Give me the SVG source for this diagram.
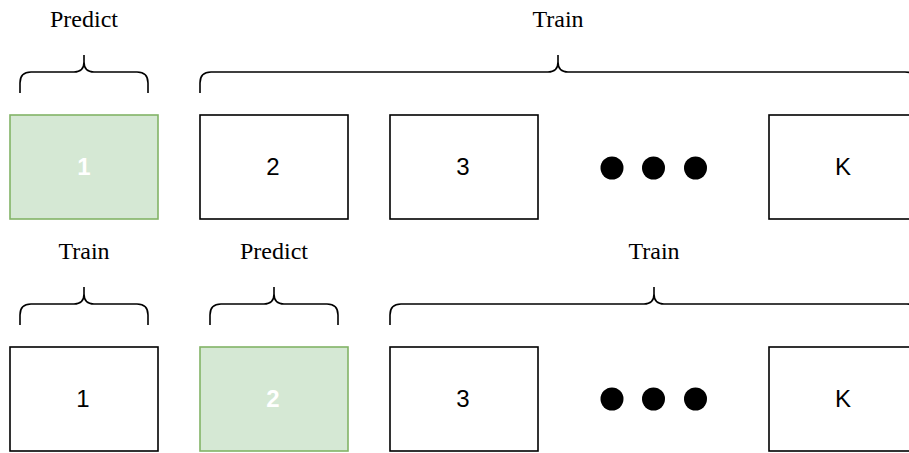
<svg xmlns="http://www.w3.org/2000/svg" width="909" height="453" viewBox="0 0 909 453">
  <style>
    .fold { fill: #ffffff; stroke: #000000; stroke-width: 1.6; }
    .fold.hold { fill: #d5e8d4; stroke: #82b366; }
    .num { font-family: "Liberation Sans", Arial, sans-serif; font-size: 24px; fill: #000000; text-anchor: middle; }
    .num.hold { fill: #ffffff; font-weight: bold; }
    .brace { fill: none; stroke: #000000; stroke-width: 1.6; }
    .tag { font-family: "Liberation Serif", "Times New Roman", serif; font-size: 24px; fill: #000000; text-anchor: middle; }
    .dot { fill: #000000; }
  </style>
  <rect width="909" height="453" fill="#ffffff"/>

  <!-- Row 1: fold 1 held out -->
  <g id="row1">
    <g id="r1-brace-predict">
      <path class="brace" d="M20,93 L20,83 Q20,72 31,72 L74,72 Q84,72 84,62 L84,55 M84,62 Q84,72 94,72 L137,72 Q148,72 148,83 L148,93"/>
      <text class="tag" x="84" y="27">Predict</text>
    </g>
    <g id="r1-brace-train">
      <path class="brace" d="M200,93 L200,83 Q200,72 211,72 L548,72 Q558,72 558,62 L558,55 M558,62 Q558,72 568,72 L905,72 Q916,72 916,83 L916,93"/>
      <text class="tag" x="558" y="27">Train</text>
    </g>
    <g id="r1-fold1">
      <rect class="fold hold" x="10" y="115" width="148" height="104"/>
      <text class="num hold" x="84" y="175">1</text>
    </g>
    <g id="r1-fold2">
      <rect class="fold" x="200" y="115" width="148" height="104"/>
      <text class="num" x="273" y="175">2</text>
    </g>
    <g id="r1-fold3">
      <rect class="fold" x="390" y="115" width="148" height="104"/>
      <text class="num" x="463" y="175">3</text>
    </g>
    <g id="r1-ellipsis">
      <circle class="dot" cx="612" cy="168" r="11.5"/>
      <circle class="dot" cx="653.5" cy="168" r="11.5"/>
      <circle class="dot" cx="695.5" cy="168" r="11.5"/>
    </g>
    <g id="r1-foldK">
      <rect class="fold" x="769" y="115" width="148" height="104"/>
      <text class="num" x="843" y="175">K</text>
    </g>
  </g>

  <!-- Row 2: fold 2 held out -->
  <g id="row2">
    <g id="r2-brace-train-left">
      <path class="brace" d="M20,325 L20,315 Q20,304 31,304 L74,304 Q84,304 84,294 L84,287 M84,294 Q84,304 94,304 L137,304 Q148,304 148,315 L148,325"/>
      <text class="tag" x="84" y="259">Train</text>
    </g>
    <g id="r2-brace-predict">
      <path class="brace" d="M210,325 L210,315 Q210,304 221,304 L264,304 Q274,304 274,294 L274,287 M274,294 Q274,304 284,304 L327,304 Q338,304 338,315 L338,325"/>
      <text class="tag" x="274" y="259">Predict</text>
    </g>
    <g id="r2-brace-train-right">
      <path class="brace" d="M390,325 L390,315 Q390,304 401,304 L644,304 Q654,304 654,294 L654,287 M654,294 Q654,304 664,304 L907,304 Q918,304 918,315 L918,325"/>
      <text class="tag" x="654" y="259">Train</text>
    </g>
    <g id="r2-fold1">
      <rect class="fold" x="10" y="347" width="148" height="104"/>
      <text class="num" x="83" y="407">1</text>
    </g>
    <g id="r2-fold2">
      <rect class="fold hold" x="200" y="347" width="148" height="104"/>
      <text class="num hold" x="273" y="407">2</text>
    </g>
    <g id="r2-fold3">
      <rect class="fold" x="390" y="347" width="148" height="104"/>
      <text class="num" x="463" y="407">3</text>
    </g>
    <g id="r2-ellipsis">
      <circle class="dot" cx="612" cy="399" r="11.5"/>
      <circle class="dot" cx="653.5" cy="399" r="11.5"/>
      <circle class="dot" cx="695.5" cy="399" r="11.5"/>
    </g>
    <g id="r2-foldK">
      <rect class="fold" x="769" y="347" width="148" height="104"/>
      <text class="num" x="843" y="407">K</text>
    </g>
  </g>
</svg>
